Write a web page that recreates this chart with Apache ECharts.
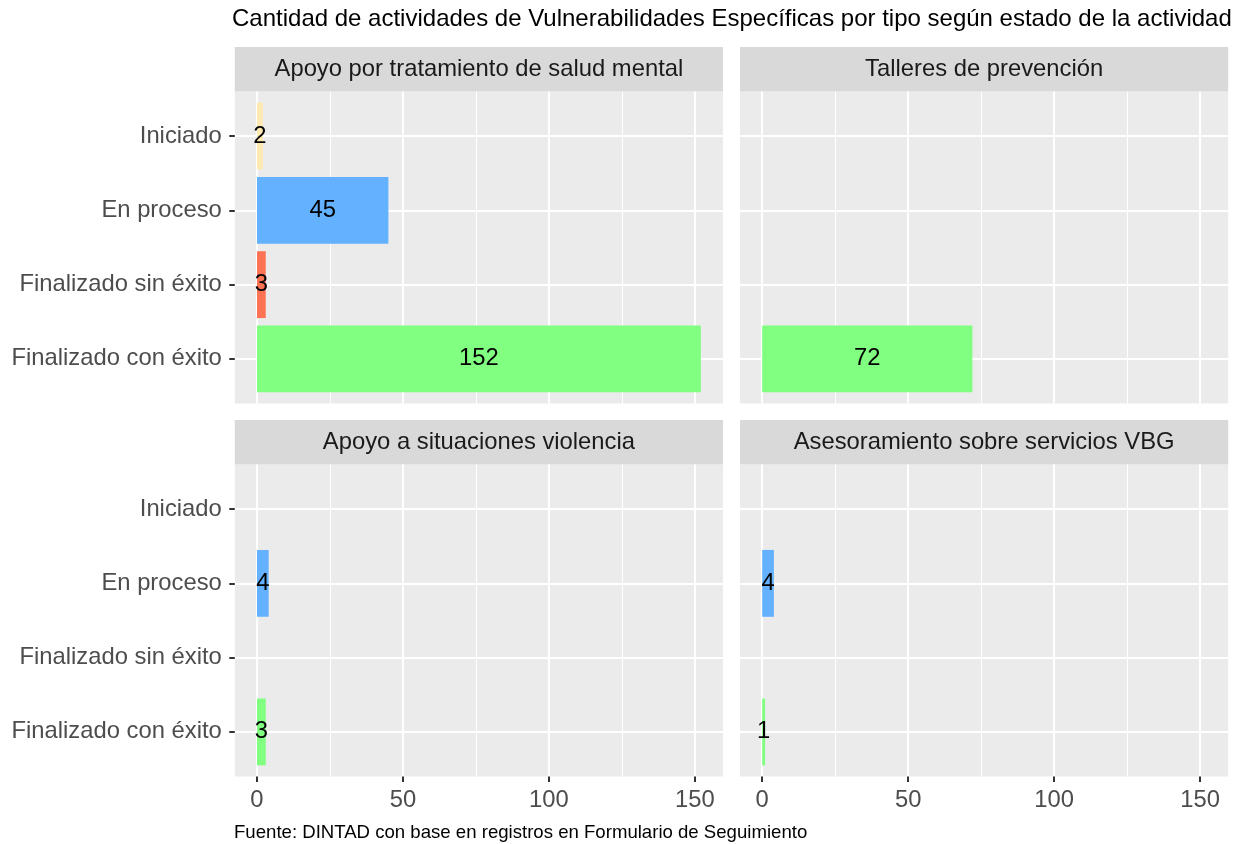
<!DOCTYPE html>
<html>
<head>
<meta charset="utf-8">
<script src="https://cdn.jsdelivr.net/npm/echarts@6/dist/echarts.min.js"></script>
<style>
  html, body { margin: 0; padding: 0; background: #fff; }
  #chart { width: 1241px; height: 844px; }
</style>
</head>
<body>
<div id="chart"></div>
<script>
// datos
const estados = ['Iniciado', 'En proceso', 'Finalizado sin éxito', 'Finalizado con éxito'];
const coloresEstado = ['#FFE9B3', '#63B1FF', '#FF7355', '#80FF80'];
const paneles = ['Apoyo por tratamiento de salud mental', 'Talleres de prevención',
                 'Apoyo a situaciones violencia', 'Asesoramiento sobre servicios VBG'];
const saludMental = [2, 45, 3, 152];
const talleres = [null, null, null, 72];
const violencia = [null, 4, null, 3];
const asesoramiento = [null, 4, null, 1];
const valoresX = [0, 50, 100, 150];

const valores = [saludMental, talleres, violencia, asesoramiento];

const FONT = '"Liberation Sans", Arial, sans-serif';
const FS = 23.8;
const xMin = -7.6, xMax = 159.6;
// posiciones de los paneles
const colLeft = [234.8, 740];
const panelW = 488.2;
const rowTop = [91.5, 464.5];
const panelH = 312;
const stripH = 44.5;
const unit = panelH / 4.2;

let grid = [], xAxis = [], yAxis = [], series = [], graphic = [];

for (let i = 0; i < 4; i++) {
  const col = i % 2, row = Math.floor(i / 2);
  const left = colLeft[col], top = rowTop[row];
  // fondo + ejes
  grid.push({ left: left, top: top, width: panelW, height: panelH,
    show: true, backgroundColor: '#EBEBEB', borderWidth: 0 });
  // barras
  grid.push({ left: left, top: top + 0.1 * unit, width: panelW, height: 4 * unit });

  xAxis.push({
    type: 'value', gridIndex: 2 * i, min: xMin, max: xMax,
    minInterval: 50, maxInterval: 50,
    axisLine: { show: false, onZero: false },
    axisTick: { show: row === 1, length: 5.5, customValues: valoresX,
      lineStyle: { color: '#333333', width: 2 } },
    axisLabel: { show: row === 1, customValues: valoresX, margin: 12,
      color: '#4D4D4D', fontSize: FS, fontFamily: FONT },
    splitLine: { show: true, lineStyle: { color: '#fff', width: 2.1 } },
    minorTick: { show: false, splitNumber: 2 },
    minorSplitLine: { show: true, lineStyle: { color: '#fff', width: 1 } }
  });
  xAxis.push({ type: 'value', gridIndex: 2 * i + 1, min: xMin, max: xMax, show: false });

  yAxis.push({
    type: 'value', gridIndex: 2 * i, min: 0.4, max: 4.6, inverse: true,
    minInterval: 1, maxInterval: 1,
    axisLine: { show: false, onZero: false },
    axisTick: { show: col === 0, length: 5.5, customValues: [1, 2, 3, 4],
      lineStyle: { color: '#333333', width: 2 } },
    axisLabel: { show: col === 0, customValues: [1, 2, 3, 4], margin: 13,
      color: '#4D4D4D', fontSize: FS, fontFamily: FONT,
      formatter: v => (Number.isInteger(v) && v >= 1 && v <= 4) ? estados[v - 1] : '' },
    splitLine: { show: true, lineStyle: { color: '#fff', width: 2.1 } }
  });
  yAxis.push({ type: 'category', gridIndex: 2 * i + 1, data: estados, inverse: true, show: false });

  series.push({
    type: 'bar', xAxisIndex: 2 * i + 1, yAxisIndex: 2 * i + 1,
    barCategoryGap: '10%',
    data: valores[i].map((v, k) => v == null ? null : { value: v, itemStyle: { color: coloresEstado[k] } }),
    label: { show: true, position: 'inside', color: '#000', fontSize: FS, fontFamily: FONT,
      formatter: p => (p.value == null || isNaN(p.value)) ? '' : String(p.value) },
    silent: true
  });

  // cabecera del panel
  graphic.push({ type: 'rect', shape: { x: left, y: top - stripH, width: panelW, height: stripH },
    style: { fill: '#D9D9D9' } });
  graphic.push({ type: 'text', style: { text: paneles[i], x: left + panelW / 2, y: top - stripH / 2,
    align: 'center', verticalAlign: 'middle', fontSize: FS, fontFamily: FONT, fill: '#1A1A1A' } });
}

graphic.push({ type: 'text', style: {
  text: 'Cantidad de actividades de Vulnerabilidades Específicas por tipo según estado de la actividad',
  x: 232, y: 19.5, align: 'left', verticalAlign: 'middle', fontSize: 24, fontFamily: FONT, fill: '#000' } });
graphic.push({ type: 'text', style: {
  text: 'Fuente: DINTAD con base en registros en Formulario de Seguimiento',
  x: 234, y: 833, align: 'left', verticalAlign: 'middle', fontSize: 18.6, fontFamily: FONT, fill: '#000' } });

let myChart = echarts.init(document.getElementById('chart'));
myChart.setOption({
  animation: false,
  grid: grid,
  xAxis: xAxis,
  yAxis: yAxis,
  series: series,
  graphic: graphic
});
</script>
</body>
</html>
